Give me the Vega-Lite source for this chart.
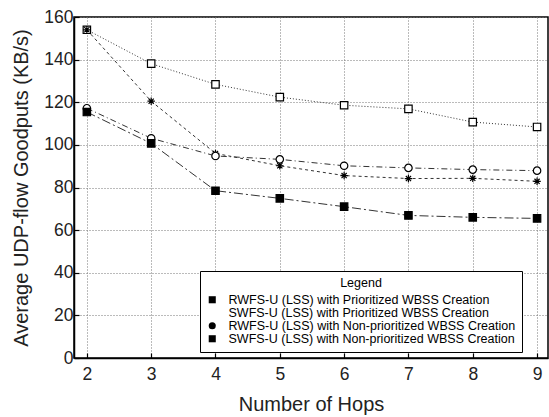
{
  "$schema": "https://vega.github.io/schema/vega-lite/v6.json",
  "autosize": "none",
  "padding": {"left": 74, "top": 17, "right": 1, "bottom": 59},
  "width": 474,
  "height": 341,
  "background": "white",
  "config": {
    "font": "Liberation Sans",
    "view": {"stroke": "black", "strokeWidth": 1.5},
    "axis": {
      "labelFont": "Liberation Sans",
      "titleFont": "Liberation Sans",
      "labelFontSize": 17.5,
      "titleFontSize": 20,
      "titleFontWeight": "normal",
      "labelColor": "#222",
      "titleColor": "#222",
      "domainColor": "black",
      "domainWidth": 1.5,
      "tickColor": "black",
      "tickSize": -5,
      "tickWidth": 1.2,
      "gridColor": "#777",
      "gridDash": [1, 2],
      "gridWidth": 1,
      "gridOpacity": 1
    }
  },
  "data": {
    "values": [
      {"hops": 2, "series": "RWFS-U (LSS) with Prioritized WBSS Creation", "goodput": 154},
      {"hops": 3, "series": "RWFS-U (LSS) with Prioritized WBSS Creation", "goodput": 138.1},
      {"hops": 4, "series": "RWFS-U (LSS) with Prioritized WBSS Creation", "goodput": 128.4},
      {"hops": 5, "series": "RWFS-U (LSS) with Prioritized WBSS Creation", "goodput": 122.4},
      {"hops": 6, "series": "RWFS-U (LSS) with Prioritized WBSS Creation", "goodput": 118.6},
      {"hops": 7, "series": "RWFS-U (LSS) with Prioritized WBSS Creation", "goodput": 116.9},
      {"hops": 8, "series": "RWFS-U (LSS) with Prioritized WBSS Creation", "goodput": 110.7},
      {"hops": 9, "series": "RWFS-U (LSS) with Prioritized WBSS Creation", "goodput": 108.4},
      {"hops": 2, "series": "SWFS-U (LSS) with Prioritized WBSS Creation", "goodput": 154},
      {"hops": 3, "series": "SWFS-U (LSS) with Prioritized WBSS Creation", "goodput": 120.5},
      {"hops": 4, "series": "SWFS-U (LSS) with Prioritized WBSS Creation", "goodput": 96},
      {"hops": 5, "series": "SWFS-U (LSS) with Prioritized WBSS Creation", "goodput": 90.2},
      {"hops": 6, "series": "SWFS-U (LSS) with Prioritized WBSS Creation", "goodput": 85.6},
      {"hops": 7, "series": "SWFS-U (LSS) with Prioritized WBSS Creation", "goodput": 84.2},
      {"hops": 8, "series": "SWFS-U (LSS) with Prioritized WBSS Creation", "goodput": 84.3},
      {"hops": 9, "series": "SWFS-U (LSS) with Prioritized WBSS Creation", "goodput": 82.9},
      {"hops": 2, "series": "RWFS-U (LSS) with Non-prioritized WBSS Creation", "goodput": 117.2},
      {"hops": 3, "series": "RWFS-U (LSS) with Non-prioritized WBSS Creation", "goodput": 103.1},
      {"hops": 4, "series": "RWFS-U (LSS) with Non-prioritized WBSS Creation", "goodput": 94.8},
      {"hops": 5, "series": "RWFS-U (LSS) with Non-prioritized WBSS Creation", "goodput": 93.2},
      {"hops": 6, "series": "RWFS-U (LSS) with Non-prioritized WBSS Creation", "goodput": 90.2},
      {"hops": 7, "series": "RWFS-U (LSS) with Non-prioritized WBSS Creation", "goodput": 89.2},
      {"hops": 8, "series": "RWFS-U (LSS) with Non-prioritized WBSS Creation", "goodput": 88.4},
      {"hops": 9, "series": "RWFS-U (LSS) with Non-prioritized WBSS Creation", "goodput": 87.9},
      {"hops": 2, "series": "SWFS-U (LSS) with Non-prioritized WBSS Creation", "goodput": 115.4},
      {"hops": 3, "series": "SWFS-U (LSS) with Non-prioritized WBSS Creation", "goodput": 100.7},
      {"hops": 4, "series": "SWFS-U (LSS) with Non-prioritized WBSS Creation", "goodput": 78.5},
      {"hops": 5, "series": "SWFS-U (LSS) with Non-prioritized WBSS Creation", "goodput": 74.9},
      {"hops": 6, "series": "SWFS-U (LSS) with Non-prioritized WBSS Creation", "goodput": 71},
      {"hops": 7, "series": "SWFS-U (LSS) with Non-prioritized WBSS Creation", "goodput": 66.9},
      {"hops": 8, "series": "SWFS-U (LSS) with Non-prioritized WBSS Creation", "goodput": 66},
      {"hops": 9, "series": "SWFS-U (LSS) with Non-prioritized WBSS Creation", "goodput": 65.5}
    ]
  },
  "encoding": {
    "x": {
      "field": "hops",
      "type": "quantitative",
      "title": "Number of Hops",
      "scale": {"domain": [1.8, 9.17], "nice": false, "zero": false},
      "axis": {"values": [2, 3, 4, 5, 6, 7, 8, 9], "labelPadding": 12, "titlePadding": 12}
    },
    "y": {
      "field": "goodput",
      "type": "quantitative",
      "title": "Average UDP-flow Goodputs (KB/s)",
      "scale": {"domain": [0, 160], "nice": false},
      "axis": {"values": [0, 20, 40, 60, 80, 100, 120, 140, 160], "labelPadding": 6, "titlePadding": 12}
    }
  },
  "layer": [
    {
      "mark": {"type": "line", "strokeWidth": 1, "color": "#333"},
      "encoding": {
        "strokeDash": {
          "field": "series",
          "type": "nominal",
          "legend": null,
          "sort": [
            "RWFS-U (LSS) with Prioritized WBSS Creation",
            "SWFS-U (LSS) with Prioritized WBSS Creation",
            "RWFS-U (LSS) with Non-prioritized WBSS Creation",
            "SWFS-U (LSS) with Non-prioritized WBSS Creation"
          ],
          "scale": {"range": [[1, 2], [3, 3], [6, 3, 1, 3], [9, 3, 2, 3]]}
        }
      }
    },
    {
      "mark": {"type": "point", "filled": false, "stroke": "black", "strokeWidth": 1.2, "size": 55, "opacity": 1},
      "encoding": {
        "shape": {
          "field": "series",
          "type": "nominal",
          "sort": [
            "RWFS-U (LSS) with Prioritized WBSS Creation",
            "SWFS-U (LSS) with Prioritized WBSS Creation",
            "RWFS-U (LSS) with Non-prioritized WBSS Creation",
            "SWFS-U (LSS) with Non-prioritized WBSS Creation"
          ],
          "scale": {
            "range": [
              "square",
              "M-1,0L1,0M0,-1L0,1M-0.7,-0.7L0.7,0.7M-0.7,0.7L0.7,-0.7",
              "circle",
              "square"
            ]
          },
          "legend": {
            "title": "Legend",
            "orient": "none",
            "legendX": 126,
            "legendY": 254,
            "titleAnchor": "middle",
            "titleFontSize": 12.5,
            "titleFontWeight": "normal",
            "titleFont": "Liberation Sans",
            "titleColor": "black",
            "titlePadding": 4,
            "labelFont": "Liberation Sans",
            "labelFontSize": 12.5,
            "labelColor": "black",
            "labelLimit": 400,
            "labelOffset": 10,
            "rowPadding": 0,
            "symbolSize": 50,
            "symbolOpacity": 1,
            "symbolStrokeColor": "black",
            "symbolStrokeWidth": 1.2,
            "strokeColor": "black",
            "fillColor": "white",
            "padding": 6
          }
        },
        "fill": {
          "field": "series",
          "type": "nominal",
          "sort": [
            "RWFS-U (LSS) with Prioritized WBSS Creation",
            "SWFS-U (LSS) with Prioritized WBSS Creation",
            "RWFS-U (LSS) with Non-prioritized WBSS Creation",
            "SWFS-U (LSS) with Non-prioritized WBSS Creation"
          ],
          "scale": {"range": ["white", "white", "white", "black"]}
        }
      }
    }
  ]
}
